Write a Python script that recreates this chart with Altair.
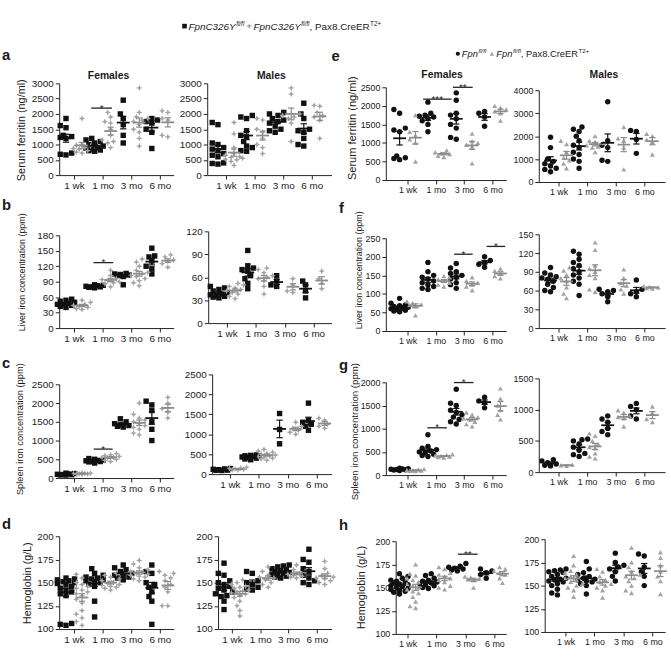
import math
import altair as alt
import pandas as pd

FONT = "Liberation Sans"
INK = "#1a1a1a"
BLACK = "#111111"
GRAY = "#a3a3a3"
GRAYL = "#8c8c8c"

AGES = ["1 wk", "1 mo", "3 mo", "6 mo"]

# ---------------- data (per panel: 4 age groups, control / mutant) ----------------
# a: serum ferritin, FpnC326Y model
a_F_ctl = [[1850, 1620, 1550, 1300, 1260, 1230, 1200, 720, 680, 660],
           [1200, 1150, 1100, 1050, 1000, 950, 900, 880, 850, 820, 800, 780],
           [2450, 2000, 1850, 1650, 1300, 1050],
           [1850, 1800, 1750, 1700, 1500, 1400, 870]]
a_F_mut = [[1850, 1000, 980, 950, 900, 870, 850, 800, 750, 720],
           [2050, 1900, 1750, 1700, 1500, 1300, 1150, 1100, 1050, 900],
           [2850, 2050, 1900, 1850, 1800, 1750, 1650, 1500, 1400, 1200, 950],
           [2100, 2050, 1850, 1800, 1300, 1250]]
a_M_ctl = [[1720, 1650, 1050, 1000, 900, 850, 800, 700, 650, 600, 400, 380, 360],
           [1950, 1900, 1850, 1450, 1300, 1250, 1100, 950, 900, 800, 780],
           [2050, 2000, 1950, 1850, 1800, 1750, 1700, 1600, 1500, 1450, 1400],
           [2350, 2000, 1850, 1500, 1450, 1400, 1200, 1000, 950]]
a_M_mut = [[1720, 1350, 900, 700, 650, 600, 580, 550, 520, 500, 450, 320],
           [1850, 1800, 1500, 1400, 1200, 1000, 900, 700],
           [2850, 2650, 2000, 1950, 1900, 1850, 1700, 1100],
           [2280, 2250, 2050, 1950, 1900, 1800, 1200]]
# b: liver iron
b_F_ctl = [[56, 54, 52, 50, 48, 46, 45, 44, 42, 40],
           [84, 83, 82, 81, 80, 80, 79, 78],
           [106, 105, 104, 103, 102, 100, 84],
           [155, 140, 138, 130, 120, 115, 105]]
b_F_mut = [[54, 50, 46, 44, 42, 40, 38, 36],
           [112, 102, 96, 94, 92, 90, 88, 86, 80],
           [134, 128, 120, 112, 108, 105, 102, 100, 96, 92, 88, 82],
           [142, 138, 132, 130, 125, 118]]
b_M_ctl = [[48, 46, 44, 42, 40, 38, 37, 36, 35, 34, 33],
           [95, 75, 72, 70, 68, 62, 58, 52, 45],
           [62, 55, 50, 48],
           [55, 50, 42, 33]]
b_M_mut = [[52, 50, 48, 46, 44, 42, 40, 38, 35, 32],
           [72, 70, 66, 62, 60, 58, 55, 48, 38],
           [58, 50, 42, 40],
           [68, 58, 52, 45]]
# c: spleen iron
c_F_ctl = [[130, 120, 110, 100, 95, 90, 85, 80],
           [520, 500, 480, 470, 460, 450, 440, 430, 400],
           [1580, 1500, 1450, 1420, 1400, 1380, 1360],
           [2050, 1950, 1800, 1500, 1300, 1000]]
c_F_mut = [[140, 130, 125, 120, 115, 110, 105, 100],
           [650, 620, 600, 580, 560, 550, 530, 500, 470, 440],
           [2000, 1700, 1600, 1550, 1500, 1450, 1400, 1350, 1300, 1200, 1150],
           [2150, 2000, 1850, 1750, 1600]]
c_M_ctl = [[140, 130, 120, 110, 100, 95, 90],
           [480, 470, 460, 450, 440, 430, 420, 400, 380, 360],
           [1520, 1120, 760],
           [1780, 1350, 1300, 1250, 1200, 1100]]
c_M_mut = [[170, 150, 140, 130, 120, 110, 100],
           [620, 580, 550, 520, 500, 480, 460, 440, 420, 400, 380, 350],
           [1300, 1200, 1150, 1100, 1050, 1000],
           [1400, 1350, 1250, 1200, 1150]]
# d: hemoglobin
d_F_ctl = [[155, 154, 153, 152, 151, 150, 149, 148, 146, 144, 142, 140, 138, 136, 106, 105, 104],
           [165, 160, 158, 156, 155, 154, 153, 152, 151, 150, 148, 146, 130, 113],
           [169, 166, 164, 162, 160, 158, 157, 156, 155, 153],
           [169, 162, 160, 150, 148, 145, 140, 135, 130, 105]]
d_F_mut = [[159, 155, 150, 148, 146, 144, 142, 140, 138, 136, 132, 128, 120, 116, 112, 108, 104],
           [160, 158, 156, 154, 152, 150, 149, 148, 147, 146, 145, 144, 142],
           [174, 170, 166, 164, 162, 161, 160, 159, 158, 157, 156, 154, 152],
           [162, 160, 158, 155, 152, 148, 145, 140, 125, 125]]
d_M_ctl = [[171, 160, 158, 152, 150, 148, 146, 144, 142, 140, 138, 136, 135, 130, 121],
           [162, 160, 152, 150, 148, 145, 143, 142],
           [169, 168, 167, 165, 164, 163, 162, 161, 160, 159, 158, 157, 156, 155],
           [186, 175, 172, 165, 162, 158, 155, 152, 150, 148]]
d_M_mut = [[153, 150, 148, 146, 145, 144, 142, 141, 140, 139, 138, 136, 134, 130, 125, 120, 114],
           [167, 162, 158, 156, 155, 153, 150, 148, 145],
           [169, 164, 162, 160, 159, 158, 157, 156, 155],
           [173, 165, 160, 158, 156, 155, 154, 152, 150, 148]]
# e: serum ferritin, Fpn model
e_F_ctl = [[1900, 1800, 1400, 1350, 1300, 650, 600, 580, 550],
           [2100, 1800, 1750, 1720, 1700, 1650, 1600, 1500, 1300],
           [2350, 2150, 1800, 1750, 1650, 1500, 1400, 1150, 1100],
           [1850, 1800, 1700, 1450]]
e_F_mut = [[1750, 1300, 1200, 1100, 1000, 500],
           [800, 750, 720, 700, 650, 620],
           [1250, 1050, 1000, 950, 900, 450],
           [2000, 1950, 1900, 1850, 1800, 1600]]
e_M_ctl = [[1950, 1500, 1000, 900, 800, 700, 600, 550, 450],
           [2400, 2300, 2200, 2000, 1800, 1600, 1500, 1300, 1200, 1000, 900, 600],
           [3500, 1800, 1600, 1500, 950, 900],
           [2250, 2200, 1850, 1250]]
e_M_mut = [[1800, 1650, 1300, 1050, 950, 800, 600],
           [2000, 1800, 1750, 1700, 1600, 1550, 1500, 1300],
           [2400, 1900, 1800, 1500, 550],
           [2100, 2000, 1850, 1750, 1200]]
# f: liver iron
f_F_ctl = [[88, 75, 70, 68, 66, 64, 62, 60, 58, 56, 54, 52],
           [185, 160, 150, 145, 140, 135, 130, 125, 120, 115, 112],
           [182, 170, 160, 155, 150, 145, 140, 130, 125, 115],
           [200, 190, 185, 180, 172]]
f_F_mut = [[80, 75, 72, 70, 68, 42],
           [148, 145, 140, 135, 130, 125, 120],
           [145, 135, 130, 125, 120, 110],
           [168, 162, 155, 148, 142]]
f_M_ctl = [[97, 88, 85, 82, 80, 78, 75, 70, 65, 60, 58],
           [123, 118, 110, 105, 100, 95, 90, 85, 80, 75, 70, 52],
           [62, 60, 58, 55, 50, 42],
           [77, 62, 58, 55, 50]]
f_M_mut = [[97, 92, 85, 80, 75, 65, 55, 48],
           [137, 125, 100, 95, 90, 85, 80, 62, 58],
           [94, 80, 72, 68, 62, 55],
           [67, 66, 65, 64, 63]]
# g: spleen iron
g_F_ctl = [[150, 140, 130, 125, 120, 115, 110, 100],
           [870, 620, 580, 550, 520, 500, 480, 450, 420, 400],
           [1850, 1550, 1500, 1400, 1350, 1300, 1250, 1200, 1150, 1100],
           [1680, 1600, 1560, 1450]]
g_F_mut = [[130, 120, 110, 100, 95, 90, 85],
           [450, 430, 420, 410, 400, 390, 380],
           [1350, 1300, 1250, 1220, 1200, 1150, 1100, 1050],
           [1870, 1650, 1500, 1400, 1300, 1200]]
g_M_ctl = [[200, 180, 150, 130, 110, 100],
           [530, 520, 500, 450, 400, 350, 300, 280, 250],
           [900, 850, 800, 700, 650, 600],
           [1100, 1050, 1000, 900, 850]]
g_M_mut = [[120, 110, 100],
           [620, 580, 500, 450, 400, 380, 300, 250, 220],
           [990, 950, 900, 880, 860, 730],
           [1050, 950, 850, 800]]
# h: hemoglobin
h_F_ctl = [[165, 162, 160, 158, 157, 156, 155, 154, 153, 152, 151, 150, 149, 148, 147, 146, 145, 143],
           [165, 163, 160, 158, 157, 156, 155, 154, 153, 152, 150, 149],
           [176, 173, 172, 171, 170, 169, 168],
           [170, 168, 166, 164, 160]]
h_F_mut = [[175, 165, 163, 160, 158, 156, 154, 152, 150, 148, 146, 144, 140, 135, 130, 128],
           [172, 170, 166, 164, 162, 160, 158, 156, 152, 150, 148],
           [162, 161, 160, 159, 158, 150],
           [172, 170, 168, 166, 164, 160, 155]]
h_M_ctl = [[168, 167, 166, 165, 164, 162, 160, 158, 157, 156, 155, 154, 152, 150, 146, 142, 140],
           [176, 168, 164, 162, 160, 158, 157, 156, 155, 154, 152, 150, 141],
           [185, 175, 172, 170, 168, 165, 160, 155],
           [184, 182, 170, 165, 160, 150]]
h_M_mut = [[182, 172, 166, 164, 162, 160, 158, 156, 154, 152, 150, 148, 145, 138],
           [168, 165, 160, 156, 154, 152, 150, 148, 145, 137],
           [191, 175, 170, 165, 162, 160, 158, 155, 150, 145, 142],
           [186, 180, 172, 165, 160, 155, 141]]

# significance bars: panel, from, to (age-axis units), level, label
SIG_PANEL = ["a_F", "b_F", "c_F", "e_F", "e_F", "f_F", "f_F", "g_F", "g_F", "h_F"]
SIG_FROM = [1.60, 1.68, 1.69, 1.55, 2.60, 2.64, 3.79, 1.70, 2.64, 2.74]
SIG_TO = [2.33, 2.37, 2.35, 2.55, 3.30, 3.30, 4.45, 2.39, 3.33, 3.42]
SIG_Y = [2190, 127, 772, 2180, 2500, 207, 228, 1020, 1995, 186]
SIG_TXT = ["*", "*", "*", "***", "**", "*", "*", "*", "*", "**"]

YTITLES = {"a": "Serum ferritin (ng/ml)", "b": "Liver iron concentration  (ppm)",
           "c": "Spleen iron concentration (ppm)", "d": "Hemoglobin (g/L)",
           "e": "Serum ferritin (ng/ml)", "f": "Liver iron concentration  (ppm)",
           "g": "Spleen iron concentration (ppm)", "h": "Hemoglobin (g/L)"}

DATA = {
    "a_F": (a_F_ctl, a_F_mut), "a_M": (a_M_ctl, a_M_mut),
    "b_F": (b_F_ctl, b_F_mut), "b_M": (b_M_ctl, b_M_mut),
    "c_F": (c_F_ctl, c_F_mut), "c_M": (c_M_ctl, c_M_mut),
    "d_F": (d_F_ctl, d_F_mut), "d_M": (d_M_ctl, d_M_mut),
    "e_F": (e_F_ctl, e_F_mut), "e_M": (e_M_ctl, e_M_mut),
    "f_F": (f_F_ctl, f_F_mut), "f_M": (f_M_ctl, f_M_mut),
    "g_F": (g_F_ctl, g_F_mut), "g_M": (g_M_ctl, g_M_mut),
    "h_F": (h_F_ctl, h_F_mut), "h_M": (h_M_ctl, h_M_mut),
}

# ---------------- layout (absolute pixel geometry) ----------------
# X, Y, W, H, xlo, xhi, ymin, ymax, ystep, cell (left, right, top, bottom)
GEOM = {
    "a_F": (60, 80, 116, 93, 0.483, 4.483, 0, 3000, 500, (0, 177, 60, 192)),
    "a_M": (207, 80, 126, 93, 0.345, 4.69, 0, 3000, 500, (177, 336, 60, 192)),
    "b_F": (60, 234, 116, 94, 0.483, 4.483, 0, 180, 30, (0, 177, 192, 350)),
    "b_M": (208, 230, 125, 93, 0.35, 4.62, 0, 120, 30, (177, 336, 192, 350)),
    "c_F": (60, 385, 116, 95, 0.483, 4.483, 0, 2500, 500, (0, 177, 350, 510)),
    "c_M": (212, 375, 121, 101, 0.386, 4.52, 0, 2500, 500, (177, 336, 350, 510)),
    "d_F": (60, 539, 116, 94, 0.483, 4.483, 100, 200, 25, (0, 177, 510, 665)),
    "d_M": (218, 539, 115, 94, 0.51, 4.52, 100, 200, 25, (177, 336, 510, 665)),
    "e_F": (385, 84, 122, 94, 0.233, 4.484, 0, 2500, 500, (336, 508, 60, 197)),
    "e_M": (537, 87, 128, 93, 0.31, 4.724, 0, 4000, 1000, (508, 671, 60, 197)),
    "f_F": (385, 237, 122, 94, 0.233, 4.484, 0, 250, 50, (336, 508, 197, 355)),
    "f_M": (537, 233, 128, 95, 0.31, 4.724, 0, 150, 30, (508, 671, 197, 355)),
    "g_F": (385, 383, 122, 94, 0.233, 4.484, 0, 2000, 500, (336, 508, 355, 512)),
    "g_M": (537, 379, 128, 95, 0.31, 4.724, 0, 1500, 500, (508, 671, 355, 512)),
    "h_F": (395, 544, 112, 94, 0.59, 4.41, 100, 200, 25, (336, 508, 512, 665)),
    "h_M": (543, 542, 122, 94, 0.28, 4.44, 100, 200, 25, (508, 671, 512, 665)),
}
# y-title: offset x from axis, centre y within plot, font size
YT_STYLE = {"a_F": (-38, 47, 11), "b_F": (-38, 37, 9), "c_F": (-40, 45, 9.4), "d_F": (-32, 47, 10.8),
            "e_F": (-34, 41, 11.2), "f_F": (-28, 32, 9), "g_F": (-32, 49.5, 9.8), "h_F": (-35, 46.5, 11)}
TOPTITLE = {"a_F": ("Females", 110, 73), "a_M": ("Males", 272, 73),
            "e_F": ("Females", 442, 72), "e_M": ("Males", 603, 72)}
LETTERS = {"b_F": ("b", 2, 208), "c_F": ("c", 2, 368), "d_F": ("d", 2, 532),
           "f_F": ("f", 337.5, 211), "g_F": ("g", 337.5, 370), "h_F": ("h", 337.5, 533)}

STAR = "M0,-1L0.28,-0.28L1,0L0.28,0.28L0,1L-0.28,0.28L-1,0L-0.28,-0.28Z"
ONE = pd.DataFrame({"k": [0]})


def swarm(vals, center, sx, sy, r=4.8, step=2.9, kmax=3):
    cands = [0.0]
    for k in range(1, kmax + 1):
        cands += [-k * step, k * step]
    placed = []
    xs = [0.0] * len(vals)
    for i in sorted(range(len(vals)), key=lambda j: vals[j]):
        yp = vals[i] * sy
        best, bestd, bc = None, -1.0, 0.0
        for c in cands:
            d = min([math.hypot(c - px, yp - py) for px, py in placed] or [99.0])
            if d >= r:
                best = c
                break
            if d > bestd:
                bestd, bc = d, c
        if best is None:
            best = bc
        placed.append((best, yp))
        xs[i] = center + best / sx
    return xs


def vtext(x, y, s, size=10, bold=False, italic=False, color=INK, align="left",
          baseline="alphabetic", dy=0):
    return alt.Chart(ONE).mark_text(
        text=s, font=FONT, fontSize=size, fontWeight="bold" if bold else "normal",
        fontStyle="italic" if italic else "normal", color=color, align=align,
        baseline=baseline, dy=dy).encode(x=alt.value(x), y=alt.value(y))


def pin(x, y):
    return alt.Chart(ONE).mark_rect(opacity=0).encode(
        x=alt.value(x), x2=alt.value(x + 1), y=alt.value(y), y2=alt.value(y + 1))


def spacer():
    return pin(0, 0).properties(width=1, height=1)


def vsym(x, y, shape, size, color):
    return alt.Chart(ONE).mark_point(shape=shape, filled=True, opacity=1, size=size,
                                     color=color).encode(x=alt.value(x), y=alt.value(y))


LABEL_EXPR = "[" + ",".join("'%s'" % a for a in AGES) + "][datum.value-1]"


def panel(key, first):
    X, Y, W, H, lo, hi, y0, y1, ys, (CL, CR, RT, RB) = GEOM[key]
    left = key[0] in "abcd"
    lfs = 10 if left else 9
    sx = W / (hi - lo)
    sy = H / (y1 - y0)
    ctl, mut = DATA[key]
    pts, segs = [], []
    for i in range(4):
        for g, arr, off in (("ctl", ctl[i], -0.28), ("mut", mut[i], 0.28)):
            c = i + 1 + off
            xs = swarm(arr, c, sx, sy)
            for v, xv in zip(arr, xs):
                pts.append({"x": xv, "y": v, "g": g})
            n = len(arr)
            m = sum(arr) / n
            sd = math.sqrt(sum((v - m) ** 2 for v in arr) / (n - 1))
            se = sd / math.sqrt(n)
            hw, cw = 6.5 / sx, 3.2 / sx
            segs += [dict(x=c - hw, x2=c + hw, y=m, y2=m, g=g, w=1.8),
                     dict(x=c, x2=c, y=m - se, y2=m + se, g=g, w=1.2),
                     dict(x=c - cw, x2=c + cw, y=m + se, y2=m + se, g=g, w=1.2),
                     dict(x=c - cw, x2=c + cw, y=m - se, y2=m - se, g=g, w=1.2)]
    sigtxt = []
    for p, a, b, yv, t in zip(SIG_PANEL, SIG_FROM, SIG_TO, SIG_Y, SIG_TXT):
        if p == key:
            segs.append(dict(x=a, x2=b, y=yv, y2=yv, g="sig", w=1.3))
            sigtxt.append({"x": (a + b) / 2, "y": yv, "t": t})
    pdf = pd.DataFrame(pts)
    sdf = pd.DataFrame(segs)

    axcommon = dict(grid=False, tickSize=4, labelPadding=2, labelFontSize=lfs, labelFont=FONT,
                    labelColor=INK, domainColor="#222", tickColor="#222", domainWidth=1,
                    tickWidth=1, labelFlush=False, labelOverlap=False)
    xenc = alt.X("x:Q", scale=alt.Scale(domain=[lo, hi], nice=False, zero=False),
                 axis=alt.Axis(values=[1, 2, 3, 4], labelExpr=LABEL_EXPR, title=None, **axcommon))
    ykw = dict(values=list(range(y0, y1 + 1, ys)), format="d", **axcommon)
    if key.endswith("_F"):
        tx, ty, tfs = YT_STYLE[key]
        ykw.update(title=YTITLES[key[0]], titleX=tx, titleY=ty, titleAngle=270,
                   titleAlign="center", titleBaseline="middle", titleFontSize=tfs,
                   titleFont=FONT, titleFontWeight="normal", titleColor=INK)
    else:
        ykw.update(title=None)
    yenc = alt.Y("y:Q", scale=alt.Scale(domain=[y0, y1], nice=False, zero=False),
                 axis=alt.Axis(**ykw))

    if left:
        sh_c, sz_c, sh_m, sz_m = "square", 30, STAR, 44
    else:
        sh_c, sz_c, sh_m, sz_m = "circle", 30, "triangle-up", 26

    layers = [
        alt.Chart(pdf[pdf.g == "ctl"]).mark_point(shape=sh_c, filled=True, opacity=1,
                                                  size=sz_c, color=BLACK).encode(x=xenc, y=yenc),
        alt.Chart(pdf[pdf.g == "mut"]).mark_point(shape=sh_m, filled=True, opacity=1,
                                                  size=sz_m, color=GRAY).encode(x=xenc, y=yenc),
        alt.Chart(sdf).mark_rule().encode(
            x=xenc, x2=alt.X2("x2"), y=yenc, y2=alt.Y2("y2"),
            color=alt.Color("g:N", scale=alt.Scale(domain=["ctl", "mut", "sig"],
                                                   range=[BLACK, GRAYL, "#222"]), legend=None),
            strokeWidth=alt.StrokeWidth("w:Q", scale=None)),
    ]
    if sigtxt:
        layers.append(alt.Chart(pd.DataFrame(sigtxt)).mark_text(
            font=FONT, fontSize=10, color="#222", align="center", baseline="alphabetic",
            dy=2.5).encode(x=xenc, y=yenc, text="t:N"))
    if key in TOPTITLE:
        s, ax, ay = TOPTITLE[key]
        layers.append(vtext(ax - X, ay - Y, s, size=10.5, bold=True, align="center",
                            baseline="middle"))
    if key in LETTERS:
        s, ax, ay = LETTERS[key]
        layers.append(vtext(ax - X, ay - Y, s, size=15, bold=True))
    # invisible corner marks fixing this panel's cell (layout bounds)
    layers.append(pin(CL + 1 - X, RT + (1 if first else 0) - Y))
    layers.append(pin(CR - X - 1, RB - Y - 1))
    p = alt.layer(*layers).properties(width=W, height=H)
    return alt.hconcat(spacer(), p, spacing=0)


# ---------------- header (legends and first panel letters) ----------------
hdr = [
    vsym(187, 22, "square", 22, BLACK),
    vtext(191, 26, "FpnC326Y", italic=True),
    vtext(239.3, 22, "fl/fl", size=6.5, italic=True),
    vsym(252.5, 22, STAR, 34, GRAY),
    vtext(257, 26, "FpnC326Y", italic=True),
    vtext(305.3, 22, "fl/fl", size=6.5, italic=True),
    vtext(313.6, 26, ", Pax8.CreER"),
    vtext(375, 22, "T2+", size=6.5),
    vsym(464, 50, "circle", 18, BLACK),
    vtext(468, 53.5, "Fpn", size=9.5, italic=True),
    vtext(484.9, 49.5, "fl/fl", size=6.2, italic=True),
    vsym(498.5, 50, "triangle-up", 20, GRAY),
    vtext(503, 53.5, "Fpn", size=9.5, italic=True),
    vtext(519.9, 49.5, "fl/fl", size=6.2, italic=True),
    vtext(527.8, 53.5, ", Pax8.CreER", size=9.5),
    vtext(586.3, 49.5, "T2+", size=6.2),
    vtext(2, 56, "a", size=15, bold=True),
    vtext(336, 57, "e", size=15, bold=True),
    pin(0, 0),
    pin(670, 59),
]
header = alt.layer(*hdr).properties(width=1, height=1)

cols = []
for keys in (["a_F", "b_F", "c_F", "d_F"], ["a_M", "b_M", "c_M", "d_M"],
             ["e_F", "f_F", "g_F", "h_F"], ["e_M", "f_M", "g_M", "h_M"]):
    cols.append(alt.vconcat(spacer(), *[panel(k, i == 0) for i, k in enumerate(keys)],
                            spacing=0))
body = alt.hconcat(*cols, spacing=0)

chart = alt.vconcat(header, body, spacing=0).properties(
    padding=0, background="white").configure_view(stroke=None)

chart.save("out.html", embed_options={"renderer": "svg", "actions": False})
